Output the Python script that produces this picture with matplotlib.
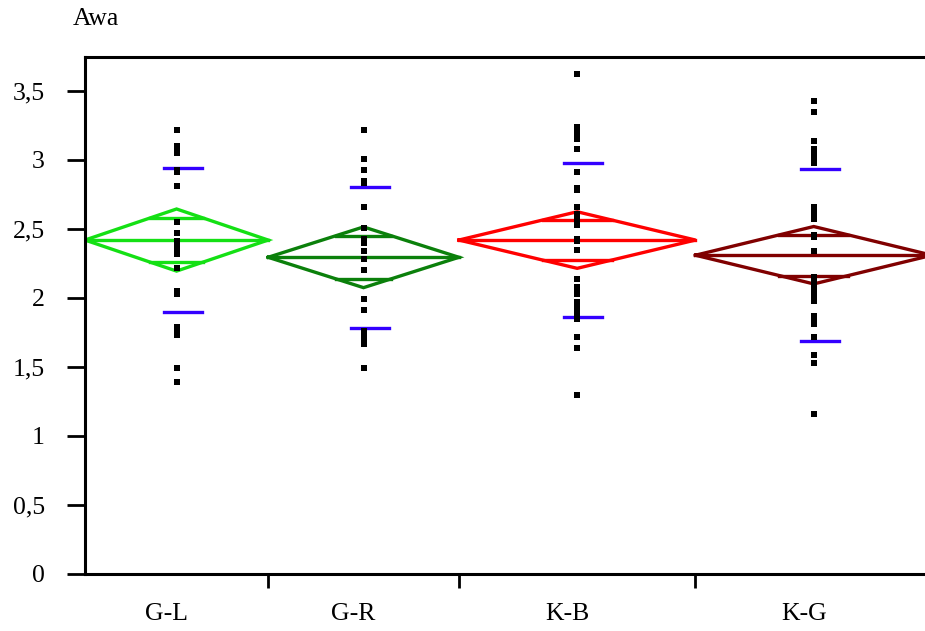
import matplotlib.pyplot as plt
import numpy as np
from matplotlib.transforms import ScaledTranslation

plt.rcParams['font.family'] = ['Liberation Serif', 'DejaVu Serif']

# group summary
groups = ['G-L', 'G-R', 'K-B', 'K-G']
group_n = [24, 25, 31, 31]
means = [2.42, 2.295, 2.42, 2.31]
ci_half = [0.225, 0.22, 0.205, 0.208]
sds = [0.52, 0.51, 0.56, 0.625]
colors = ['#14e014', '#0b800b', '#ff0000', '#800000']
sd_color = '#3300ff'

# raw observations
gl_vals = [3.22, 3.10, 3.07, 3.05, 2.93, 2.91, 2.81, 2.55, 2.47, 2.41, 2.38,
           2.36, 2.34, 2.32, 2.22, 2.05, 2.03, 1.79, 1.76, 1.73, 1.49, 1.39]
gr_vals = [3.22, 3.01, 2.93, 2.85, 2.83, 2.66, 2.51, 2.43, 2.40, 2.34, 2.28,
           2.20, 1.99, 1.91, 1.76, 1.73, 1.70, 1.67, 1.49]
kb_vals = [3.62, 3.24, 3.22, 3.19, 3.17, 3.15, 3.08, 2.91, 2.80, 2.78, 2.66,
           2.61, 2.58, 2.56, 2.53, 2.43, 2.41, 2.35, 2.14, 2.08, 2.06, 2.03,
           1.97, 1.95, 1.91, 1.88, 1.85, 1.72, 1.64, 1.30]
kg_vals = [3.43, 3.35, 3.14, 3.08, 3.05, 3.03, 3.00, 2.98, 2.66, 2.64, 2.61,
           2.59, 2.57, 2.46, 2.44, 2.34, 2.15, 2.13, 2.11, 2.08, 2.06, 2.03,
           2.01, 1.98, 1.87, 1.84, 1.81, 1.72, 1.59, 1.53, 1.16]
all_vals = [gl_vals, gr_vals, kb_vals, kg_vals]

fig = plt.figure(figsize=(9.25, 6.31), dpi=100)
ax = fig.add_axes([85/925, 57/631, 847/925, 517.5/631])

edges = np.concatenate([[0], np.cumsum(group_n)])
centers = (edges[:-1] + edges[1:]) / 2

for i in range(len(groups)):
    x0, x1, xc = edges[i], edges[i+1], centers[i]
    m, h, s, c = means[i], ci_half[i], sds[i], colors[i]
    half_w = (x1 - x0) / 2
    # diamond
    ax.plot([x0, xc, x1, xc, x0], [m, m + h, m, m - h, m], color=c, lw=2.4,
            solid_joinstyle='miter', zorder=2)
    ax.plot([x0, x1], [m, m], color=c, lw=2.4, zorder=2)
    # overlap marks
    off = h / np.sqrt(2)
    cw = half_w * (1 - 1 / np.sqrt(2))
    for yy in (m + off, m - off):
        ax.plot([xc - cw, xc + cw], [yy, yy], color=c, lw=2.4, zorder=2)
    # std dev lines
    for yy in (m + s, m - s):
        ax.plot([xc - 1.7, xc + 3.3], [yy, yy], color=sd_color, lw=2.4, zorder=3)
    # points
    ax.plot(np.full(len(all_vals[i]), xc), all_vals[i], 's', color='black',
            ms=4.8, mec='black', mew=0, zorder=4)

ax.set_xlim(0, edges[-1])
ax.set_ylim(0, 3.75)

for side in ['left', 'bottom', 'top']:
    ax.spines[side].set_linewidth(2.2)
ax.spines['right'].set_visible(False)

yt = np.arange(0, 3.51, 0.5)
ax.set_yticks(yt)
ax.set_yticklabels([f'{v:g}'.replace('.', ',') for v in yt])
ax.tick_params(axis='y', length=13, width=2, pad=16, labelsize=18.5)

ax.set_xticks(centers)
ax.set_xticklabels(groups)
ax.set_xticks(edges[1:-1], minor=True)
ax.tick_params(axis='x', which='major', length=0, pad=21, labelsize=18.5)
ax.tick_params(axis='x', which='minor', length=10, width=2)
for lab in ax.get_xticklabels():
    lab.set_transform(lab.get_transform() + ScaledTranslation(-0.1, 0, fig.dpi_scale_trans))

fig.text(73/925, 1 - 19/631, 'Awa', fontsize=18.5, ha='left', va='center')

fig.savefig('out.png', dpi=100)
